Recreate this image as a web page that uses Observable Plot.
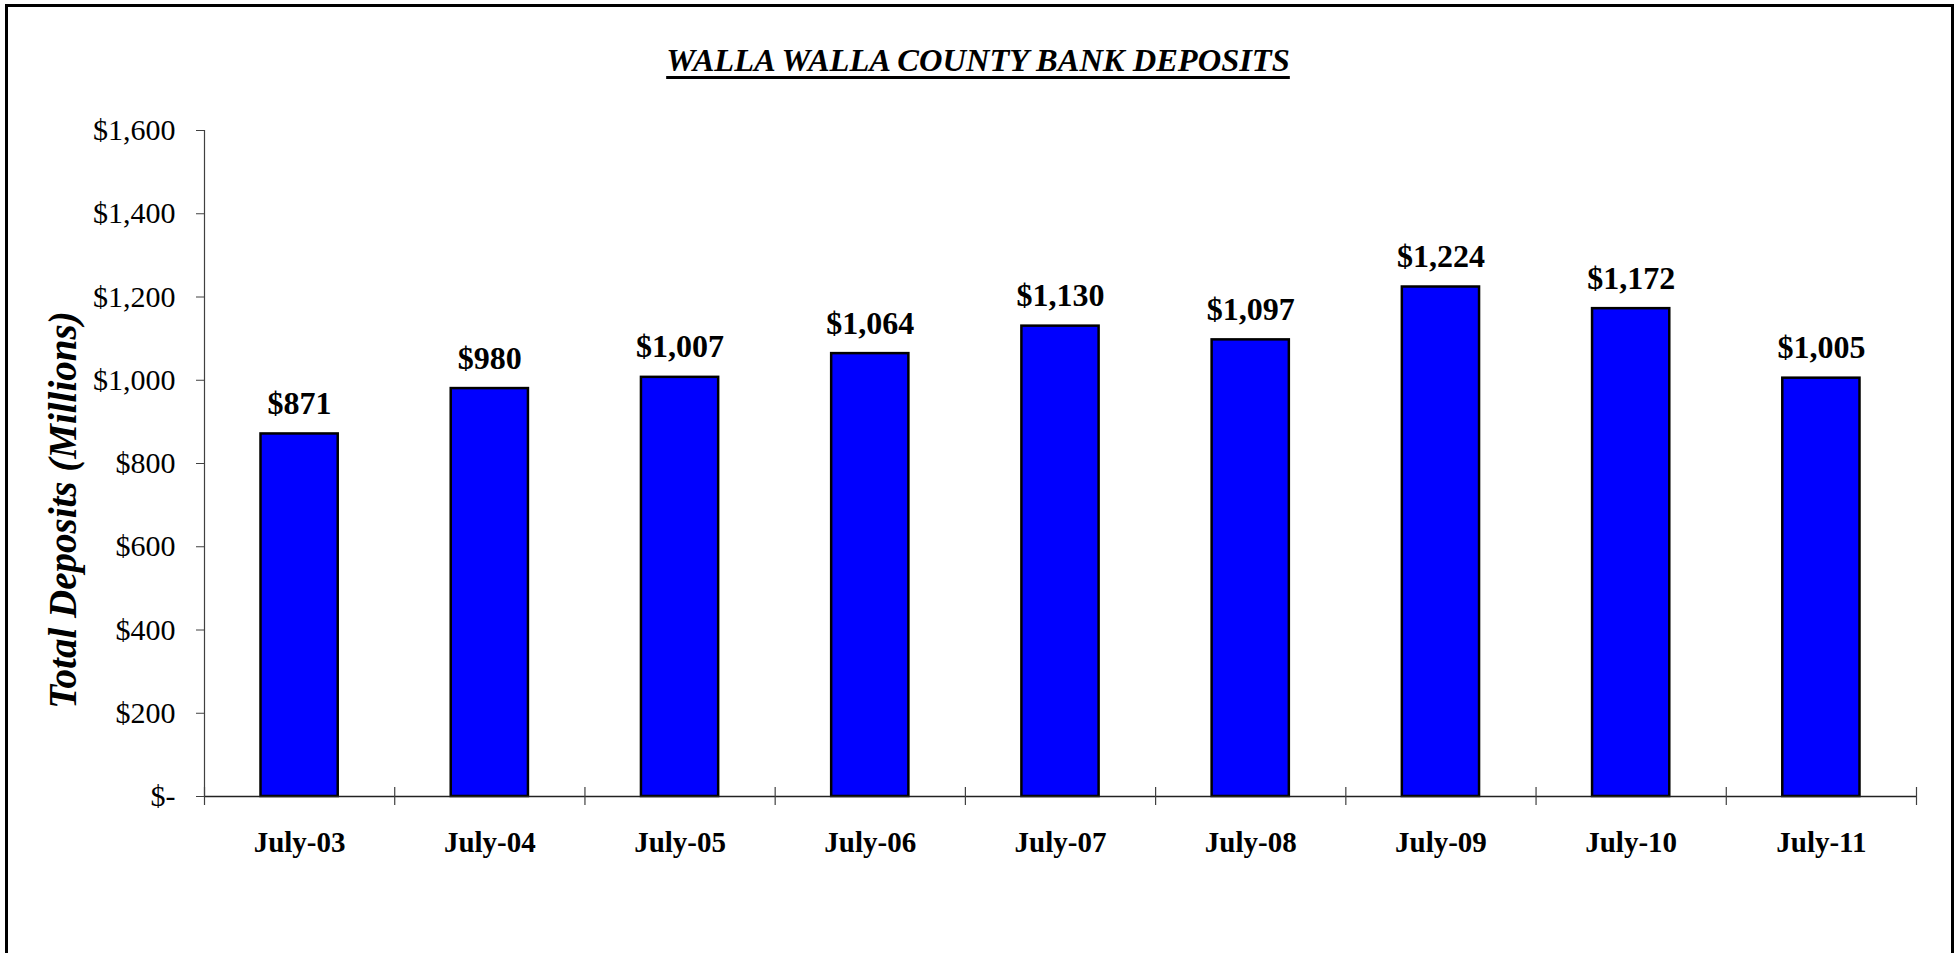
<!DOCTYPE html>
<html><head><meta charset="utf-8">
<script src="https://cdn.jsdelivr.net/npm/d3@7"></script>
<script src="https://cdn.jsdelivr.net/npm/@observablehq/plot@0.6"></script>
<style>
html,body{margin:0;padding:0;background:#fff;overflow:hidden;}
#wrap{position:relative;width:1956px;height:953px;overflow:hidden;}
#frame{position:absolute;left:5px;top:4px;width:1949px;height:1000px;border:3px solid #000;box-sizing:border-box;}
#title{position:absolute;left:0;top:42px;width:1956px;text-align:center;font-family:"Liberation Serif";font-weight:bold;font-style:italic;font-size:32.5px;line-height:normal;}
#title span{text-decoration:underline;text-decoration-thickness:3px;text-underline-offset:5px;}
#ytitle{position:absolute;left:62px;top:510px;transform:translate(-50%,-50%) rotate(-90deg);white-space:nowrap;font-family:"Liberation Serif";font-weight:bold;font-style:italic;font-size:39px;line-height:1;}
#chart{position:absolute;left:0;top:100px;}
</style>
</head><body>
<div id="wrap">
<div id="frame"></div>
<div id="title"><span>WALLA WALLA COUNTY BANK DEPOSITS</span></div>
<div id="chart"></div>
<div id="ytitle"></div>
</div>
<script>
const categories = ["July-03","July-04","July-05","July-06","July-07","July-08","July-09","July-10","July-11"];
const deposits = [871, 980, 1007, 1064, 1130, 1097, 1224, 1172, 1005];
const yTicks = [0, 200, 400, 600, 800, 1000, 1200, 1400, 1600];
const yTitle = "Total Deposits (Millions)";

document.getElementById("ytitle").textContent = yTitle;

const data = categories.map((c, i) => ({cat: c, i, value: deposits[i]}));
const fmt = d3.format(",");

const chart = Plot.plot({
  width: 1956, height: 853,
  marginLeft: 204, marginRight: 40, marginTop: 30, marginBottom: 157,
  x: {type: "linear", domain: [0, categories.length]},
  y: {domain: [0, 1600]},
  style: {fontFamily: "Liberation Serif", background: "transparent", color: "#000"},
  marks: [
    Plot.axisY({ticks: yTicks, tickFormat: d => d === 0 ? "$-" : "$" + fmt(d), tickSize: 8, tickPadding: 21, fontSize: 30, label: null, stroke: "#404040"}),
    Plot.axisX({ticks: categories.map((c, i) => i + 0.5), tickFormat: v => categories[Math.floor(v)], tickSize: 0, tickPadding: 35, fontSize: 29, fontWeight: "bold", label: null}),
    Plot.rectY(data, {x1: "i", x2: d => d.i + 1, y: "value", fill: "#0000ff", stroke: "#000", strokeWidth: 2.5, insetLeft: 56.5, insetRight: 56.5}),
    Plot.ruleX([0], {y1: 0, y2: 1600, stroke: "#404040", strokeWidth: 1.2}),
    Plot.ruleY([0], {x1: 0, x2: categories.length, stroke: "#222", strokeWidth: 1.5}),
    Plot.ruleX(d3.range(categories.length + 1), {x: d => d, y1: 0, y2: 0, insetTop: -9, insetBottom: -9, stroke: "#404040", strokeWidth: 1.2}),
    Plot.text(data, {x: d => d.i + 0.5, y: "value", text: d => "$" + fmt(d.value), lineAnchor: "bottom", dy: -20, fontSize: 32, fontWeight: "bold", fill: "#000"})
  ]
});
document.getElementById("chart").appendChild(chart);
</script>
</body></html>
